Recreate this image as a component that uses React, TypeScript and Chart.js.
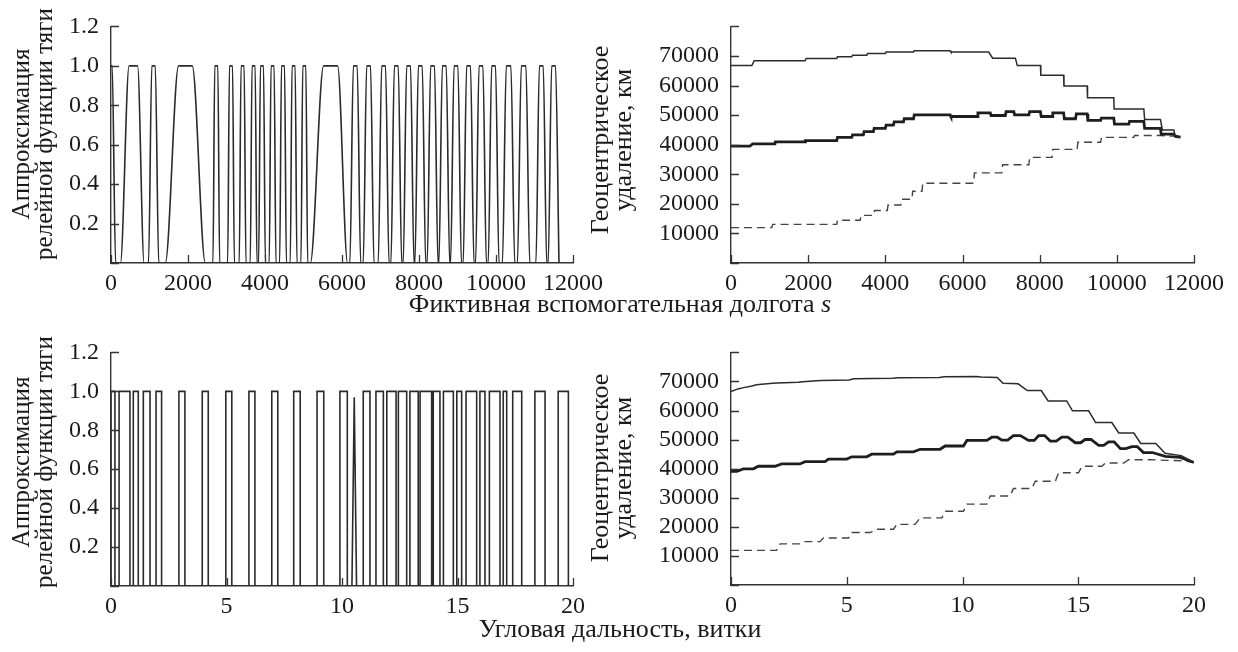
import React, { useEffect, useRef } from "react";
import { Chart, registerables } from "chart.js";

Chart.register(...registerables);

const FONT = "'Liberation Serif', 'Times New Roman', serif";
const INK = "#2b2b2b";
const AXIS = "#333333";

// ---------- Top-left: smooth relay approximation vs fictitious longitude s ----------
const thrustStartS = [0, 30, 120];
const thrustStartU = [1, 1, 0];
// each pulse: [riseStart, riseEnd, fallStart, fallEnd] in s
const thrustPulsesS: number[][] = [
  [245, 470, 690, 860],
  [975, 1060, 1150, 1240],
  [1410, 1755, 2110, 2450],
  [2648, 2695, 2775, 2822],
  [3030, 3077, 3157, 3204],
  [3331, 3378, 3458, 3505],
  [3617, 3664, 3744, 3791],
  [3835, 3882, 3962, 4009],
  [4110, 4157, 4237, 4284],
  [4381, 4428, 4508, 4555],
  [4656, 4703, 4783, 4830],
  [4934, 4981, 5061, 5108],
  [5177, 5522, 5885, 6145],
  [6205, 6295, 6395, 6485],
  [6551, 6641, 6741, 6831],
  [6941, 7031, 7131, 7221],
  [7271, 7361, 7461, 7551],
  [7590, 7680, 7780, 7870],
  [7894, 7984, 8084, 8174],
  [8213, 8303, 8403, 8493],
  [8517, 8607, 8707, 8797],
  [8821, 8911, 9011, 9101],
  [9148, 9238, 9338, 9428],
  [9470, 9560, 9660, 9750],
  [9798, 9888, 9988, 10078],
  [10167, 10267, 10387, 10487],
  [10557, 10657, 10777, 10877],
  [11037, 11127, 11227, 11317],
  [11356, 11446, 11546, 11636],
];

// ---------- Bottom-left: relay function vs revolutions ----------
const thrustRevPulses: number[][] = [
  [0, 0.17], [0.35, 0.82], [0.965, 1.18], [1.4, 1.69], [1.95, 2.19],
  [2.94, 3.2], [3.95, 4.21], [4.97, 5.23], [5.97, 6.23], [6.96, 7.22],
  [7.91, 8.19], [8.92, 9.21], [9.91, 10.23], [10.92, 11.21], [11.47, 11.79],
  [11.94, 12.34], [12.44, 12.8], [12.94, 13.3], [13.38, 13.88], [13.95, 14.24],
  [14.39, 14.82], [14.97, 15.18], [15.37, 15.83], [15.97, 16.19], [16.38, 16.84],
  [16.98, 17.13], [17.39, 17.78], [18.35, 18.79], [19.36, 19.8],
];
const thrustRevSpikeN = [10.43, 10.53, 10.63];
const thrustRevSpikeU = [0, 0.97, 0];

// ---------- Top-right: geocentric distance vs s (km) ----------
const apoS = [0, 540, 600, 1920, 1950, 2740, 2760, 3130, 3150, 3520, 3540, 4000, 4020, 4730, 4750, 5680, 5700, 6680, 6780, 7370, 7420, 8020, 8030, 8620, 8630, 9230, 9240, 9920, 9930, 10700, 10720, 11130, 11180, 11480, 11500, 11650];
const apoR = [66750, 66750, 68400, 68400, 69150, 69150, 69700, 69700, 70250, 70250, 70800, 70800, 71340, 71340, 71770, 71770, 71340, 71340, 69260, 69260, 66750, 66750, 63480, 63480, 59880, 59880, 55860, 55860, 52050, 52050, 48560, 48560, 44970, 44970, 43300, 42570];

const smaS = [0, 490, 560, 1140, 1150, 1920, 1930, 2740, 2760, 3130, 3150, 3430, 3450, 3690, 3710, 4000, 4020, 4210, 4230, 4470, 4490, 4730, 4750, 5680, 5700, 6380, 6400, 6720, 6740, 7110, 7130, 7330, 7350, 7720, 7740, 8020, 8040, 8320, 8340, 8620, 8640, 8930, 8950, 9230, 9250, 9580, 9600, 9920, 9940, 10310, 10330, 10700, 10720, 11130, 11150, 11480, 11520, 11650];
const smaR = [39490, 39490, 40280, 40280, 40940, 40940, 41370, 41370, 42460, 42460, 43330, 43330, 44420, 44420, 45510, 45510, 46600, 46600, 47690, 47690, 48780, 48780, 50090, 50090, 49540, 49540, 50740, 50740, 49870, 49870, 51170, 51170, 50090, 50090, 51170, 51170, 49540, 49540, 50740, 50740, 48780, 48780, 50420, 50420, 48240, 48240, 49000, 49000, 46930, 46930, 47910, 47910, 45510, 45510, 43550, 43550, 42800, 42570];

const periS = [0, 1055, 1080, 2740, 2760, 3350, 3370, 3700, 3720, 4050, 4070, 4400, 4420, 4690, 4710, 4950, 4970, 6290, 6310, 7020, 7040, 7720, 7740, 8320, 8340, 8970, 8990, 9580, 9600, 10440, 10460, 11130, 11480, 11650];
const periR = [11950, 11950, 13050, 13050, 14470, 14470, 16100, 16100, 17740, 17740, 19590, 19590, 21550, 21550, 24270, 24270, 26990, 26990, 30480, 30480, 33200, 33200, 35710, 35710, 38430, 38430, 40830, 40830, 42460, 42460, 43110, 43110, 42900, 42570];

// ---------- Bottom-right: geocentric distance vs revolutions (km) ----------
const apoN = [0, 0.3, 0.5, 0.9, 1.1, 1.8, 2.0, 2.9, 3.1, 3.7, 3.9, 5.1, 5.3, 7.0, 7.2, 9.0, 9.2, 10.6, 10.8, 11.5, 11.75, 12.4, 12.8, 13.4, 13.7, 14.5, 14.75, 15.45, 15.75, 16.45, 16.75, 17.4, 17.7, 18.35, 18.75, 19.45, 20.0];
const apoRN = [66540, 67440, 67800, 68450, 68900, 69350, 69500, 69700, 69900, 70250, 70350, 70500, 70900, 71100, 71250, 71400, 71650, 71700, 71500, 71370, 69350, 69200, 66880, 66880, 63290, 63290, 59920, 59920, 55880, 55880, 52290, 52290, 48700, 48700, 45330, 44500, 42190];

const smaN = [0, 0.25, 0.53, 0.97, 1.18, 1.9, 2.19, 2.98, 3.2, 4.06, 4.21, 5.0, 5.22, 5.86, 6.08, 7.02, 7.16, 7.88, 8.17, 9.03, 9.25, 10.04, 10.19, 11.05, 11.27, 11.5, 11.7, 11.95, 12.2, 12.5, 12.85, 13.1, 13.29, 13.55, 13.79, 14.05, 14.29, 14.55, 14.87, 15.1, 15.3, 15.55, 15.88, 16.1, 16.31, 16.55, 16.82, 17.05, 17.32, 17.55, 17.82, 18.2, 18.76, 19.41, 19.99];
const smaRN = [39050, 39050, 39950, 39950, 40850, 40850, 41640, 41640, 42410, 42410, 43300, 43300, 44100, 44100, 45000, 45000, 45790, 45790, 46680, 46680, 47810, 47810, 49710, 49710, 50830, 50830, 49820, 49820, 51390, 51390, 49710, 49710, 51390, 51390, 49490, 49490, 50830, 50830, 48930, 48930, 50040, 50040, 48020, 48020, 49260, 49260, 46900, 46900, 47580, 47580, 45560, 45560, 44210, 43870, 42190];

const periN = [0, 1.97, 2.12, 2.98, 3.13, 3.85, 3.99, 5.07, 5.22, 6.01, 6.3, 7.02, 7.16, 7.95, 8.17, 9.11, 9.25, 10.04, 10.19, 11.05, 11.2, 12.06, 12.2, 13.0, 13.14, 14.01, 14.15, 15.01, 15.16, 16.02, 16.17, 16.96, 17.18, 18.11, 19.55, 19.99];
const periRN = [11900, 11900, 14150, 14150, 14920, 14920, 16140, 16140, 18050, 18050, 19170, 19170, 20850, 20850, 23100, 23100, 25350, 25350, 27820, 27820, 30630, 30630, 33210, 33210, 35680, 35680, 38600, 38600, 40840, 40840, 41960, 41960, 43080, 43080, 42700, 42190];

// ---------- Ticks & labels ----------
const sTicksMax = 12000;
const sTickStep = 2000;
const revTicksMax = 20;
const revTickStep = 5;
const relayMax = 1.2;
const relayStep = 0.2;
const distMax = 80000;
const distStep = 10000;

const titleS = "Фиктивная вспомогательная долгота ";
const titleSVar = "s";
const titleRev = "Угловая дальность, витки";
const titleRelay1 = "Аппроксимация";
const titleRelay2 = "релейной функции тяги";
const titleDist1 = "Геоцентрическое";
const titleDist2 = "удаление, км";

// ---------- helpers ----------
function zip(xs: number[], ys: number[]) {
  const n = Math.min(xs.length, ys.length);
  const out: { x: number; y: number }[] = [];
  for (let i = 0; i < n; i++) out.push({ x: xs[i], y: ys[i] });
  return out;
}

function buildSmoothPulses() {
  const pts = zip(thrustStartS, thrustStartU);
  for (const p of thrustPulsesS) {
    pts.push({ x: p[0], y: 0 }, { x: p[1], y: 1 }, { x: p[2], y: 1 }, { x: p[3], y: 0 });
  }
  return pts;
}

function buildRectPulses() {
  const pts: { x: number; y: number }[] = [];
  const spike = zip(thrustRevSpikeN, thrustRevSpikeU);
  let spikeDone = false;
  for (const p of thrustRevPulses) {
    if (!spikeDone && p[0] > thrustRevSpikeN[0]) {
      pts.push(...spike);
      spikeDone = true;
    }
    pts.push({ x: p[0], y: 0 }, { x: p[0], y: 1 }, { x: p[1], y: 1 }, { x: p[1], y: 0 });
  }
  return pts;
}

const innerTicks = {
  id: "innerTicks",
  afterDraw(chart: any) {
    const { ctx, chartArea, scales } = chart;
    const len = 8;
    ctx.save();
    ctx.strokeStyle = AXIS;
    ctx.lineWidth = 1.3;
    ctx.beginPath();
    for (const t of scales.x.ticks) {
      const px = Math.round(scales.x.getPixelForValue(t.value)) + 0.5;
      ctx.moveTo(px, chartArea.bottom);
      ctx.lineTo(px, chartArea.bottom - len);
    }
    for (const t of scales.y.ticks) {
      const py = Math.round(scales.y.getPixelForValue(t.value)) + 0.5;
      ctx.moveTo(chartArea.left, py);
      ctx.lineTo(chartArea.left + len, py);
    }
    ctx.stroke();
    ctx.restore();
  },
};

type PanelOpts = {
  datasets: any[];
  xMax: number;
  xStep: number;
  yMax: number;
  yStep: number;
  yLabel: (v: number) => string;
  padRight: number;
  padTop: number;
  yW: number;
  xH: number;
};

function makeConfig(o: PanelOpts): any {
  const font = { family: FONT, size: 24 };
  return {
    type: "line",
    data: { datasets: o.datasets },
    options: {
      animation: false,
      responsive: false,
      maintainAspectRatio: false,
      events: [],
      layout: { padding: { left: 0, right: o.padRight, top: o.padTop, bottom: 0 } },
      plugins: { legend: { display: false }, tooltip: { enabled: false } },
      elements: { point: { radius: 0 } },
      scales: {
        x: {
          type: "linear",
          min: 0,
          max: o.xMax,
          ticks: {
            stepSize: o.xStep,
            autoSkip: false,
            maxRotation: 0,
            color: "#1a1a1a",
            font,
            padding: 6,
            callback: (v: number) => String(v),
          },
          grid: { display: false, drawTicks: false },
          border: { display: true, color: AXIS, width: 1.4 },
          afterFit: (s: any) => {
            s.height = o.xH;
          },
        },
        y: {
          type: "linear",
          min: 0,
          max: o.yMax,
          ticks: {
            stepSize: o.yStep,
            autoSkip: false,
            color: "#1a1a1a",
            font,
            padding: 12,
            callback: (v: number) => o.yLabel(v),
          },
          grid: { display: false, drawTicks: false },
          border: { display: true, color: AXIS, width: 1.4 },
          afterFit: (s: any) => {
            s.width = o.yW;
          },
        },
      },
    },
    plugins: [innerTicks],
  };
}

const relayLabel = (v: number) => (v < 0.01 ? "" : v.toFixed(1));
const distLabel = (v: number) => (v < 1 || v > 75000 ? "" : String(Math.round(v)));

function distDatasets(a: any[], m: any[], p: any[]) {
  return [
    { data: a, borderColor: INK, borderWidth: 1.5, fill: false, pointRadius: 0 },
    { data: m, borderColor: "#1e1e1e", borderWidth: 2.8, fill: false, pointRadius: 0 },
    { data: p, borderColor: "#444444", borderWidth: 1.4, borderDash: [8, 5], fill: false, pointRadius: 0 },
  ];
}

const panels = [
  {
    left: 40, top: 0, width: 590, height: 300,
    cfg: () =>
      makeConfig({
        datasets: [{ data: buildSmoothPulses(), borderColor: INK, borderWidth: 1.6, cubicInterpolationMode: "monotone", fill: false, pointRadius: 0 }],
        xMax: sTicksMax, xStep: sTickStep, yMax: relayMax, yStep: relayStep, yLabel: relayLabel,
        padRight: 57, padTop: 21, yW: 71, xH: 37,
      }),
  },
  {
    left: 660, top: 0, width: 578, height: 300,
    cfg: () =>
      makeConfig({
        datasets: distDatasets(zip(apoS, apoR), zip(smaS, smaR), zip(periS, periR)),
        xMax: sTicksMax, xStep: sTickStep, yMax: distMax, yStep: distStep, yLabel: distLabel,
        padRight: 44, padTop: 17, yW: 71, xH: 37,
      }),
  },
  {
    left: 40, top: 326, width: 590, height: 300,
    cfg: () =>
      makeConfig({
        datasets: [{ data: buildRectPulses(), borderColor: INK, borderWidth: 1.6, fill: false, pointRadius: 0 }],
        xMax: revTicksMax, xStep: revTickStep, yMax: relayMax, yStep: relayStep, yLabel: relayLabel,
        padRight: 57, padTop: 23, yW: 71, xH: 40,
      }),
  },
  {
    left: 660, top: 326, width: 578, height: 300,
    cfg: () =>
      makeConfig({
        datasets: distDatasets(zip(apoN, apoRN), zip(smaN, smaRN), zip(periN, periRN)),
        xMax: revTicksMax, xStep: revTickStep, yMax: distMax, yStep: distStep, yLabel: distLabel,
        padRight: 44, padTop: 22, yW: 71, xH: 41,
      }),
  },
];

const textBase: React.CSSProperties = {
  position: "absolute",
  fontFamily: FONT,
  fontSize: 26,
  color: "#1a1a1a",
  whiteSpace: "nowrap",
  lineHeight: "23px",
};

function VTitle({ cx, cy, l1, l2, size }: { cx: number; cy: number; l1: string; l2: string; size?: number }) {
  return (
    <div
      style={{
        ...textBase,
        fontSize: size ?? 26,
        left: cx,
        top: cy,
        textAlign: "center",
        transform: "translate(-50%, -50%) rotate(-90deg)",
      }}
    >
      {l1}
      <br />
      {l2}
    </div>
  );
}

export default function App() {
  const refs = useRef<(HTMLCanvasElement | null)[]>([]);
  useEffect(() => {
    const charts: Chart[] = [];
    panels.forEach((p, i) => {
      const c = refs.current[i];
      if (c) charts.push(new Chart(c, p.cfg()));
    });
    return () => charts.forEach((c) => c.destroy());
  }, []);

  return (
    <div style={{ position: "absolute", left: 0, top: 0, width: 1238, height: 652, background: "#fff", overflow: "hidden" }}>
      {panels.map((p, i) => (
        <canvas
          key={i}
          ref={(el) => {
            refs.current[i] = el;
          }}
          width={p.width}
          height={p.height}
          style={{ position: "absolute", left: p.left, top: p.top, width: p.width, height: p.height }}
        />
      ))}
      <VTitle cx={32} cy={134} l1={titleRelay1} l2={titleRelay2} size={25} />
      <VTitle cx={32} cy={462} l1={titleRelay1} l2={titleRelay2} size={25} />
      <VTitle cx={611} cy={140} l1={titleDist1} l2={titleDist2} />
      <VTitle cx={611} cy={468} l1={titleDist1} l2={titleDist2} />
      <div style={{ ...textBase, left: 620, top: 303, transform: "translate(-50%, -50%)" }}>
        {titleS}
        <i>{titleSVar}</i>
      </div>
      <div style={{ ...textBase, left: 620, top: 628, transform: "translate(-50%, -50%)" }}>{titleRev}</div>
    </div>
  );
}
